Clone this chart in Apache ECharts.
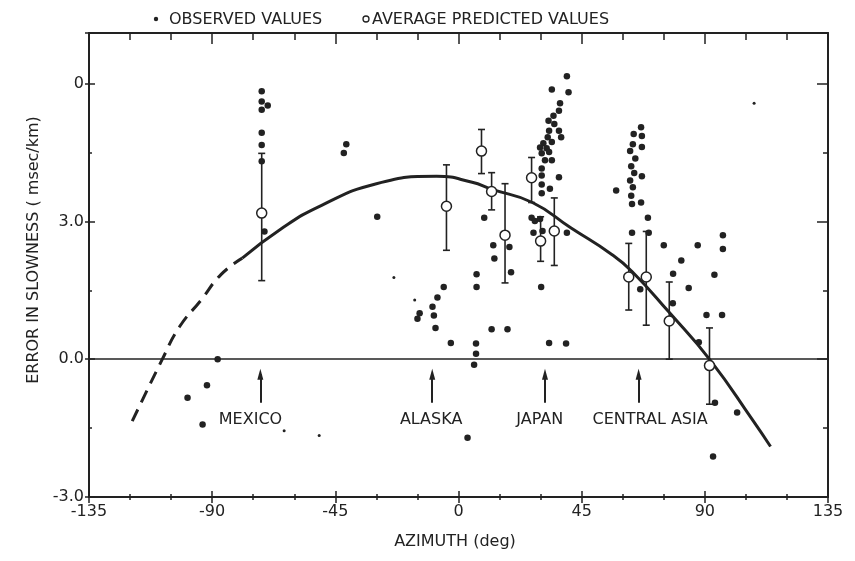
<!DOCTYPE html>
<html><head><meta charset="utf-8">
<script src="https://cdn.jsdelivr.net/npm/echarts@6/dist/echarts.min.js"></script>
<style>html,body{margin:0;padding:0;background:#fff}#c{width:855px;height:561px}</style>
</head><body><div id="c"></div><script>
// Observed values (azimuth deg, slowness error)
const obsX = [-71.9,-71.9,-69.7,-71.9,-71.9,-71.9,-71.9,-70.9,
  -88,-91.9,-99,-93.5,
  -41,-41.9,-29.7,
  9.4,12.7,13.1,18.6,19.2,6.6,6.6,-5.4,-7.7,-9.5,-9.0,-8.4,-14.2,-15.0,-2.8,6.4,6.4,5.7,12.1,17.9,3.3,
  39.6,34.1,40.2,37.1,36.7,34.7,32.9,35.0,36.7,33.1,37.5,32.6,31.0,34.1,29.8,32.2,30.4,33.1,34.1,31.6,30.4,30.4,30.4,36.7,33.4,30.4,26.7,27.9,29.8,27.4,30.7,39.6,30.2,33.1,39.3,
  66.7,64.0,67.0,63.7,67.0,62.7,64.6,63.1,64.2,67.0,62.7,63.7,57.6,63.1,63.4,66.7,69.2,63.4,69.5,75.0,87.4,96.6,96.6,81.4,78.4,93.5,84.1,66.4,78.3,90.6,96.3,87.8,93.7,101.8,93.0];
const obsY = [5.83,5.61,5.52,5.43,4.93,4.66,4.31,2.78,
  0.0,-0.57,-0.84,-1.42,
  4.68,4.49,3.10,
  3.08,2.48,2.19,2.44,1.89,1.85,1.57,1.57,1.34,1.14,0.95,0.68,1.0,0.88,0.35,0.34,0.12,-0.12,0.65,0.65,-1.71,
  6.16,5.87,5.81,5.57,5.41,5.30,5.19,5.12,4.97,4.97,4.83,4.83,4.70,4.73,4.61,4.59,4.48,4.51,4.33,4.33,4.15,4.0,3.80,3.96,3.71,3.61,3.08,3.01,3.05,2.75,2.79,2.75,1.57,0.35,0.34,
  5.05,4.9,4.86,4.68,4.62,4.53,4.37,4.20,4.05,3.98,3.89,3.74,3.67,3.56,3.38,3.41,3.08,2.75,2.75,2.48,2.48,2.70,2.40,2.15,1.86,1.84,1.55,1.52,1.22,0.96,0.96,0.37,-0.95,-1.16,-2.12];
// faint small observations
const smallX = [-63.7,-50.9,-23.6,-16,108];
const smallY = [-1.56,-1.66,1.78,1.29,5.57];
// Average predicted values with error ranges
const predX  = [-71.9,-4.4,8.4,12.1,17.0,26.7,30.0,35.0,62.2,68.6,77.0,91.7];
const predY  = [3.18,3.33,4.53,3.65,2.70,3.95,2.57,2.79,1.79,1.79,0.83,-0.14];
const predLo = [1.71,2.37,4.04,3.25,1.66,3.41,2.13,2.04,1.07,0.74,0.0,-0.98];
const predHi = [4.48,4.23,5.0,4.06,3.82,4.39,3.10,3.51,2.52,2.78,1.68,0.68];
// Fitted curve (dashed extrapolation + solid part)
const dashX = [-119.2,-108.2,-102,-94,-86.8,-79];
const dashY = [-1.35,0.0,0.7,1.29,1.84,2.2];
const solidX = [-79,-65,-50,-30,-8,5,12,27,41,56,63.4,76.8,92.1,107.3,114];
const solidY = [2.2,2.83,3.35,3.82,3.98,3.85,3.7,3.41,2.86,2.28,1.91,1.03,-0.03,-1.31,-1.9];
// Region annotations
const regionNames = ['MEXICO','ALASKA','JAPAN','CENTRAL ASIA'];
const arrowX = [-72.4,-9.6,31.6,65.8];
const labelX = [-76,-10,29.7,70];
const arrowTip = -0.33, arrowBase = -0.95, labelY = -1.31;
// Axis ticks
const yTickVals = [-3,0,3,6];
const yTickLabels = ['-3.0','0.0','3.0','0'];
const xMin=-135, xMax=135, xStep=45, yMin=-3, yMax=7.1;

const INK = '#222';
const FONT = 'DejaVu Sans';
const chart = echarts.init(document.getElementById('c'), null, {renderer:'canvas'});
const tickS = {color: INK, width: 1.5};
const shownLine = {show:true,onZero:false,lineStyle:{color:INK,width:2}};
const hiddenLine = {show:false,onZero:false};
const common = {min:xMin, max:xMax, interval:xStep, splitLine:{show:false}};
const ycommon = {min:yMin, max:yMax, splitLine:{show:false}};
const zip = (a,b)=>a.map((v,i)=>[v,b[i]]);

chart.setOption({
  animation:false,
  backgroundColor:'#fff',
  grid:{left:89,right:27,top:33,bottom:64,containLabel:false,outerBoundsMode:'none'},
  xAxis:[
    Object.assign({type:'value',position:'bottom',axisLine:shownLine,
      axisTick:{inside:true,length:6,lineStyle:tickS},
      minorTick:{show:true,splitNumber:3,length:3,lineStyle:tickS},
      axisLabel:{margin:7,color:INK,fontFamily:FONT,fontSize:16}},common),
    Object.assign({type:'value',position:'bottom',axisLine:hiddenLine,
      axisTick:{inside:false,length:6,lineStyle:tickS},
      minorTick:{show:true,splitNumber:3,length:3,lineStyle:tickS},
      axisLabel:{show:false}},common),
    Object.assign({type:'value',position:'top',axisLine:shownLine,
      axisTick:{inside:true,length:11,lineStyle:tickS},
      minorTick:{show:true,splitNumber:3,length:7,lineStyle:tickS},
      axisLabel:{show:false}},common)
  ],
  yAxis:[
    Object.assign({type:'value',position:'left',interval:3,axisLine:shownLine,
      axisTick:{inside:true,length:6,lineStyle:tickS},
      axisLabel:{margin:5,color:INK,fontFamily:FONT,fontSize:16,
        formatter:v=>{const i=yTickVals.indexOf(Math.round(v*100)/100);return i<0?'':yTickLabels[i];}}},ycommon),
    Object.assign({type:'value',position:'left',interval:3,axisLine:hiddenLine,
      axisTick:{inside:false,length:4,lineStyle:tickS},axisLabel:{show:false}},ycommon),
    Object.assign({type:'value',position:'left',interval:1.5,axisLine:hiddenLine,
      axisTick:{inside:true,length:3,lineStyle:tickS},axisLabel:{show:false}},ycommon),
    Object.assign({type:'value',position:'right',interval:3,axisLine:shownLine,
      axisTick:{inside:true,length:11,lineStyle:tickS},axisLabel:{show:false}},ycommon),
    Object.assign({type:'value',position:'right',interval:1.5,axisLine:hiddenLine,
      axisTick:{inside:true,length:5,lineStyle:tickS},axisLabel:{show:false}},ycommon)
  ],
  graphic:[
    {type:'circle',shape:{cx:156,cy:19,r:2.2},style:{fill:INK}},
    {type:'text',x:169,y:20,style:{text:'OBSERVED VALUES',fill:INK,font:'16px "DejaVu Sans"',textVerticalAlign:'middle'}},
    {type:'circle',shape:{cx:366,cy:19,r:3},style:{fill:'#fff',stroke:INK,lineWidth:1.3}},
    {type:'text',x:372,y:20,style:{text:'AVERAGE PREDICTED VALUES',fill:INK,font:'16px "DejaVu Sans"',textVerticalAlign:'middle'}},
    {type:'text',x:455,y:542,style:{text:'AZIMUTH (deg)',fill:INK,font:'16px "DejaVu Sans"',textAlign:'center',textVerticalAlign:'middle'}},
    {type:'text',x:34,y:250,rotation:Math.PI/2,style:{text:'ERROR IN SLOWNESS ( msec/km)',fill:INK,font:'16px "DejaVu Sans"',textAlign:'center',textVerticalAlign:'middle'}}
  ],
  series:[
    {type:'scatter',name:'OBSERVED VALUES',symbol:'circle',symbolSize:6.5,itemStyle:{color:INK,opacity:1},
      data:zip(obsX,obsY),z:3,
      markLine:{silent:true,symbol:'none',label:{show:false},lineStyle:{color:INK,width:1.5,type:'solid',opacity:1},data:[{yAxis:0}]}},
    {type:'scatter',name:'small',symbol:'circle',symbolSize:3,itemStyle:{color:INK,opacity:1},data:zip(smallX,smallY),z:3},
    {type:'line',name:'curveDash',data:zip(dashX,dashY),smooth:true,symbol:'none',
      lineStyle:{color:INK,width:3,type:[13,8]},z:4},
    {type:'line',name:'curve',data:zip(solidX,solidY),smooth:true,symbol:'none',
      lineStyle:{color:INK,width:3,type:'solid'},z:4},
    {type:'custom',name:'errorbars',z:5,
      data:predX.map((x,i)=>[x,predLo[i],predHi[i]]),
      renderItem:(params,api)=>{
        const x=api.value(0), lo=api.coord([x,api.value(1)]), hi=api.coord([x,api.value(2)]);
        const w=3.5, st={stroke:INK,lineWidth:1.6};
        return {type:'group',children:[
          {type:'line',shape:{x1:hi[0],y1:hi[1],x2:lo[0],y2:lo[1]},style:st},
          {type:'line',shape:{x1:hi[0]-w,y1:hi[1],x2:hi[0]+w,y2:hi[1]},style:st},
          {type:'line',shape:{x1:lo[0]-w,y1:lo[1],x2:lo[0]+w,y2:lo[1]},style:st}
        ]};
      }},
    {type:'scatter',name:'AVERAGE PREDICTED VALUES',symbol:'circle',symbolSize:10,
      itemStyle:{color:'#fff',borderColor:INK,borderWidth:1.5,opacity:1},data:zip(predX,predY),z:6},
    {type:'line',name:'arrows',data:[],symbol:'none',
      markLine:{silent:true,symbol:['none','triangle'],symbolSize:[6,11],label:{show:false},
        lineStyle:{color:INK,width:2,type:'solid',opacity:1},itemStyle:{color:INK},
        data:arrowX.map(x=>[{coord:[x,arrowBase]},{coord:[x,arrowTip]}])}},
    {type:'custom',name:'regions',z:6,
      data:labelX.map((x,i)=>[x,labelY,i]),
      renderItem:(params,api)=>{
        const p=api.coord([api.value(0),api.value(1)]);
        return {type:'text',x:p[0],y:p[1],style:{text:regionNames[api.value(2)],fill:INK,
          font:'16px "DejaVu Sans"',textAlign:'center',textVerticalAlign:'middle'}};
      }}
  ]
});
</script></body></html>
